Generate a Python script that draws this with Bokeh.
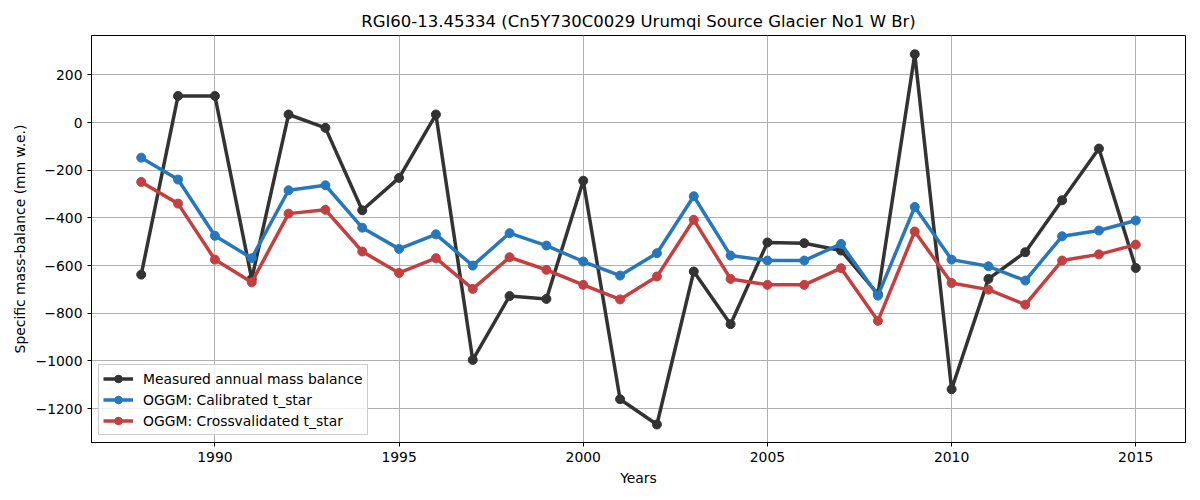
from bokeh.plotting import figure
from bokeh.models import Range1d, Legend, LegendItem, CustomJSTickFormatter, FixedTicker
from bokeh.embed import file_html
from bokeh.resources import INLINE

years = list(range(1988, 2016))
measured = [-638, 112, 112, -656, 34, -22, -368, -232, 34, -996,
            -728, -740, -244, -1161, -1267, -625, -846, -503, -506, -537,
            -720, 287, -1119, -656, -544, -326, -109, -610]
calibrated = [-147, -239, -475, -569, -284, -263, -441, -530, -469, -600,
              -464, -516, -583, -642, -548, -309, -558, -579, -579, -509,
              -726, -354, -575, -603, -663, -477, -453, -411]
crossval = [-249, -340, -575, -670, -382, -366, -541, -631, -569, -698,
            -565, -618, -681, -742, -646, -408, -656, -681, -681, -611,
            -832, -457, -673, -701, -764, -579, -553, -512]

names = ["Measured annual mass balance", "OGGM: Calibrated t_star", "OGGM: Crossvalidated t_star"]
colors = ["#333333", "#2777bd", "#c43f3f"]
x_ticks = [1990, 1995, 2000, 2005, 2010, 2015]
y_ticks = [200, 0, -200, -400, -600, -800, -1000, -1200]

FONT = "DejaVu Sans"
FS = "13.9px"

p = figure(width=1200, height=500, output_backend="svg", toolbar_location=None,
           x_range=Range1d(1986.65, 2016.35), y_range=Range1d(-1342.6, 365.6),
           title="RGI60-13.45334 (Cn5Y730C0029 Urumqi Source Glacier No1 W Br)",
           min_border_left=91, min_border_right=15, min_border_top=35, min_border_bottom=58)

p.title.align = "center"
p.title.text_font = FONT
p.title.text_font_size = "16.5px"
p.title.text_font_style = "normal"
p.title.text_color = "#000000"
p.title.offset = 0

p.outline_line_color = "#000000"
p.outline_line_alpha = 1
p.outline_line_width = 1

for ax in (p.xaxis[0], p.yaxis[0]):
    ax.axis_line_color = "#000000"
    ax.major_tick_line_color = "#000000"
    ax.major_tick_in = 0
    ax.major_tick_out = 4
    ax.minor_tick_line_color = None
    ax.major_label_text_font = FONT
    ax.major_label_text_font_size = FS
    ax.major_label_text_color = "#000000"
    ax.axis_label_text_font = FONT
    ax.axis_label_text_font_size = FS
    ax.axis_label_text_font_style = "normal"
    ax.axis_label_text_color = "#000000"

p.xaxis.ticker = FixedTicker(ticks=x_ticks)
p.yaxis.ticker = FixedTicker(ticks=y_ticks)
p.yaxis.formatter = CustomJSTickFormatter(
    code="return tick < 0 ? '\u2212' + Math.abs(tick).toString() : tick.toString();")
p.xaxis.axis_label = "Years"
p.yaxis.axis_label = "Specific mass-balance (mm w.e.)"
p.xaxis.axis_label_standoff = 5
p.yaxis.axis_label_standoff = 5

p.xgrid.grid_line_color = "#b0b0b0"
p.ygrid.grid_line_color = "#b0b0b0"
p.xgrid.grid_line_width = 1
p.ygrid.grid_line_width = 1

items = []
for name, ys, c in zip(names, [measured, calibrated, crossval], colors):
    l = p.line(years, ys, line_color=c, line_width=3.5)
    s = p.scatter(years, ys, size=9, fill_color=c, line_color=c)
    items.append(LegendItem(label=name, renderers=[l, s]))

legend = Legend(items=items, location="bottom_left")
legend.label_text_font = FONT
legend.label_text_font_size = FS
legend.label_text_color = "#000000"
legend.border_line_color = "#cccccc"
legend.border_line_alpha = 1
legend.background_fill_alpha = 0.8
legend.margin = 7
legend.padding = 4
legend.spacing = 2
legend.glyph_width = 30
legend.label_standoff = 10
legend.label_height = 19
legend.glyph_height = 19
p.add_layout(legend)

open("out.html", "w").write(file_html(p, INLINE))
